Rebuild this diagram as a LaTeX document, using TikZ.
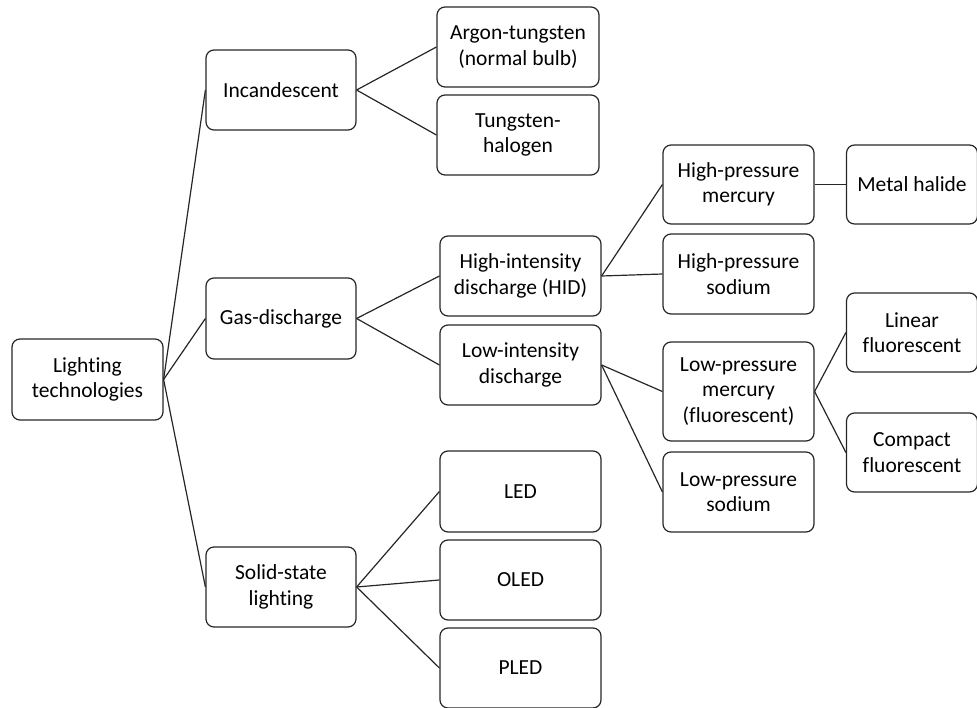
\documentclass[tikz,border=0pt]{standalone}
\usepackage{fontspec}
\setmainfont{Carlito}[Ligatures={NoCommon}]
\begin{document}
\begin{tikzpicture}[x=1pt,y=-1pt,
  box/.style={draw=black!85,line width=1.2pt,rounded corners=8pt,align=center,
    font=\fontsize{21.5}{25.5}\selectfont,inner sep=2pt},
  conn/.style={draw=black!85,line width=1.2pt}]
\useasboundingbox (0,0) rectangle (977,708);
\node[box,minimum width=151pt,minimum height=81pt] (lt) at (87.5,379.5) {Lighting\\technologies};
\node[box,minimum width=150pt,minimum height=80pt] (inc) at (281,90) {Incandescent};
\node[box,minimum width=150pt,minimum height=81pt] (gas) at (281,318.5) {Gas-discharge};
\node[box,minimum width=150pt,minimum height=80pt] (ssl) at (281,587) {Solid-state\\lighting};
\node[box,minimum width=162pt,minimum height=80pt] (arg) at (518,47) {Argon-tungsten\\(normal bulb)};
\node[box,minimum width=162pt,minimum height=80pt] (thal) at (518,135) {Tungsten-\\halogen};
\node[box,minimum width=161pt,minimum height=80pt] (hid) at (520.5,276) {High-intensity\\discharge (HID)};
\node[box,minimum width=161pt,minimum height=80pt] (lid) at (520.5,365) {Low-intensity\\discharge};
\node[box,minimum width=161pt,minimum height=81pt] (led) at (520.5,491.5) {LED};
\node[box,minimum width=161pt,minimum height=80pt] (oled) at (520.5,580) {OLED};
\node[box,minimum width=161pt,minimum height=80pt] (pled) at (520.5,668) {PLED};
\node[box,minimum width=151pt,minimum height=79pt] (hpm) at (738.5,184.5) {High-pressure\\mercury};
\node[box,minimum width=151pt,minimum height=80pt] (hps) at (738.5,274) {High-pressure\\sodium};
\node[box,minimum width=151pt,minimum height=99pt] (lpm) at (738.5,391.5) {Low-pressure\\mercury\\(fluorescent)};
\node[box,minimum width=151pt,minimum height=80pt] (lps) at (738.5,492) {Low-pressure\\sodium};
\node[box,minimum width=131pt,minimum height=79pt] (mh) at (912,184.5) {Metal halide};
\node[box,minimum width=131pt,minimum height=79pt] (lf) at (912,332.5) {Linear\\fluorescent};
\node[box,minimum width=131pt,minimum height=79pt] (cf) at (912,452.5) {Compact\\fluorescent};
\foreach \c in {inc,gas,ssl} \draw[conn] (lt.east) -- (\c.west);
\foreach \c in {arg,thal} \draw[conn] (inc.east) -- (\c.west);
\foreach \c in {hid,lid} \draw[conn] (gas.east) -- (\c.west);
\foreach \c in {led,oled,pled} \draw[conn] (ssl.east) -- (\c.west);
\foreach \c in {hpm,hps} \draw[conn] (hid.east) -- (\c.west);
\foreach \c in {lpm,lps} \draw[conn] (lid.east) -- (\c.west);
\draw[conn] (hpm.east) -- (mh.west);
\foreach \c in {lf,cf} \draw[conn] (lpm.east) -- (\c.west);
\end{tikzpicture}
\end{document}
